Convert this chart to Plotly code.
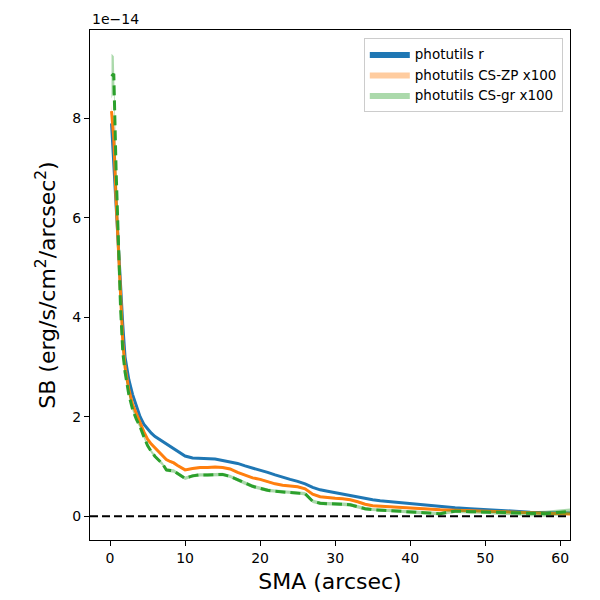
import plotly.graph_objects as go

# SMA values (arcsec)
sma = [0.2, 0.5, 0.8, 1.1, 1.4, 1.7, 2.0, 2.5, 3.0, 3.5, 4.0, 4.5, 5.0, 5.5, 6.0,
       7.0, 7.5, 8.0, 8.5, 9.0, 10.0, 11.0, 12.0, 13.0, 14.0, 15.0, 16.0, 17.0,
       18.0, 19.0, 20.0, 21.0, 22.0, 23.0, 24.0, 25.0, 26.0, 27.0, 28.0, 29.0,
       30.0, 31.0, 32.0, 33.0, 34.0, 35.0, 36.0, 38.0, 40.0, 42.0, 44.0, 45.0,
       46.0, 48.0, 50.0, 52.0, 54.0, 56.0, 58.0, 60.0, 62.0]

# Surface brightness in units of 1e-14 erg/s/cm2/arcsec2
sb_r = [7.9, 7.1, 6.2, 5.3, 4.5, 3.85, 3.2, 2.75, 2.45, 2.2, 2.0, 1.85, 1.75, 1.67, 1.6,
        1.5, 1.45, 1.4, 1.35, 1.3, 1.21, 1.17, 1.16, 1.16, 1.15, 1.12, 1.09, 1.06,
        1.01, 0.97, 0.93, 0.88, 0.83, 0.78, 0.74, 0.70, 0.65, 0.58, 0.53, 0.50,
        0.47, 0.44, 0.42, 0.39, 0.36, 0.33, 0.31, 0.28, 0.25, 0.22, 0.19, 0.18,
        0.17, 0.15, 0.13, 0.11, 0.10, 0.08, 0.07, 0.07, 0.06]

sb_zp = [8.15, 7.6, 6.4, 5.4, 4.3, 3.5, 3.0, 2.55, 2.25, 2.05, 1.88, 1.7, 1.55, 1.45, 1.37,
         1.22, 1.14, 1.1, 1.07, 1.02, 0.93, 0.96, 0.98, 0.98, 0.99, 0.98, 0.95, 0.88,
         0.82, 0.77, 0.74, 0.69, 0.65, 0.62, 0.61, 0.59, 0.55, 0.44, 0.39, 0.37,
         0.36, 0.35, 0.33, 0.29, 0.24, 0.21, 0.20, 0.18, 0.16, 0.14, 0.13, 0.125,
         0.12, 0.11, 0.10, 0.09, 0.08, 0.06, 0.05, 0.04, 0.04]

sb_gr = [8.85, 8.9, 7.0, 5.6, 4.2, 3.3, 2.9, 2.45, 2.15, 1.95, 1.8, 1.6, 1.42, 1.3, 1.2,
         1.05, 0.93, 0.92, 0.91, 0.86, 0.76, 0.81, 0.83, 0.83, 0.84, 0.84, 0.80, 0.73,
         0.66, 0.60, 0.56, 0.52, 0.50, 0.49, 0.48, 0.47, 0.45, 0.30, 0.26, 0.25,
         0.25, 0.24, 0.23, 0.19, 0.15, 0.13, 0.12, 0.11, 0.09, 0.07, 0.05, 0.08,
         0.10, 0.09, 0.08, 0.07, 0.06, 0.05, 0.05, 0.08, 0.10]

# Uncertainty half-widths (same units)
err_r = [0.05, 0.04, 0.03, 0.02] + [0.01] * 57
err_zp = [0.12, 0.10, 0.06, 0.04, 0.03] + [0.02] * 56
err_gr = [0.45, 0.35, 0.2, 0.1, 0.06, 0.05] + [0.035] * 50 + [0.04, 0.05, 0.06, 0.06, 0.06]

series = [
    ("photutils r", sb_r, err_r, "#1f77b4", "rgba(31,119,180,1.0)", "solid"),
    ("photutils CS-ZP x100", sb_zp, err_zp, "#ff7f0e", "rgba(255,127,14,0.4)", "solid"),
    ("photutils CS-gr x100", sb_gr, err_gr, "#2ca02c", "rgba(44,160,44,0.4)", "10px,5px"),
]

fig = go.Figure()
for name, y, e, col, fillcol, dash in series:
    upper = [a + b for a, b in zip(y, e)]
    lower = [a - b for a, b in zip(y, e)]
    fig.add_trace(go.Scatter(
        x=sma + sma[::-1], y=upper + lower[::-1], fill="toself",
        fillcolor=fillcol, line=dict(width=0), mode="lines",
        name=name, showlegend=True, hoverinfo="skip"))
    fig.add_trace(go.Scatter(
        x=sma, y=y, mode="lines", line=dict(color=col, width=3, dash=dash),
        showlegend=False))

x_range = [-2.67, 61.3]
fig.add_trace(go.Scatter(x=x_range, y=[0, 0], mode="lines",
                         line=dict(color="black", width=2, dash="8px,4px"),
                         showlegend=False))

fig.update_layout(
    width=592, height=592,
    margin=dict(l=82, r=30, t=22, b=60),
    paper_bgcolor="white", plot_bgcolor="white",
    font=dict(family="DejaVu Sans", color="black", size=14),
    legend=dict(x=0.985, y=0.985, xanchor="right", yanchor="top",
                bordercolor="#cccccc", borderwidth=1, bgcolor="rgba(255,255,255,0.8)",
                font=dict(size=13.5), tracegroupgap=0, itemwidth=40),
    xaxis=dict(range=x_range, showgrid=False, zeroline=False,
               showline=True, linecolor="black", linewidth=1, mirror=True,
               ticks="outside", ticklen=5, tickwidth=1, tickcolor="black",
               tickvals=[0, 10, 20, 30, 40, 50, 60],
               title=dict(text="SMA (arcsec)", font=dict(size=22), standoff=8)),
    yaxis=dict(range=[-0.48, 9.78], showgrid=False, zeroline=False,
               showline=True, linecolor="black", linewidth=1, mirror=True,
               ticks="outside", ticklen=5, tickwidth=1, tickcolor="black",
               tickvals=[0, 2, 4, 6, 8],
               title=dict(text="SB (erg/s/cm<sup>2</sup>/arcsec<sup>2</sup>)",
                          font=dict(size=22), standoff=10)),
    annotations=[dict(text="1e\u221214", xref="paper", yref="paper", x=0, y=1,
                      xanchor="left", yanchor="bottom", showarrow=False,
                      font=dict(size=14), yshift=1)],
)

fig.write_html("out.html")
